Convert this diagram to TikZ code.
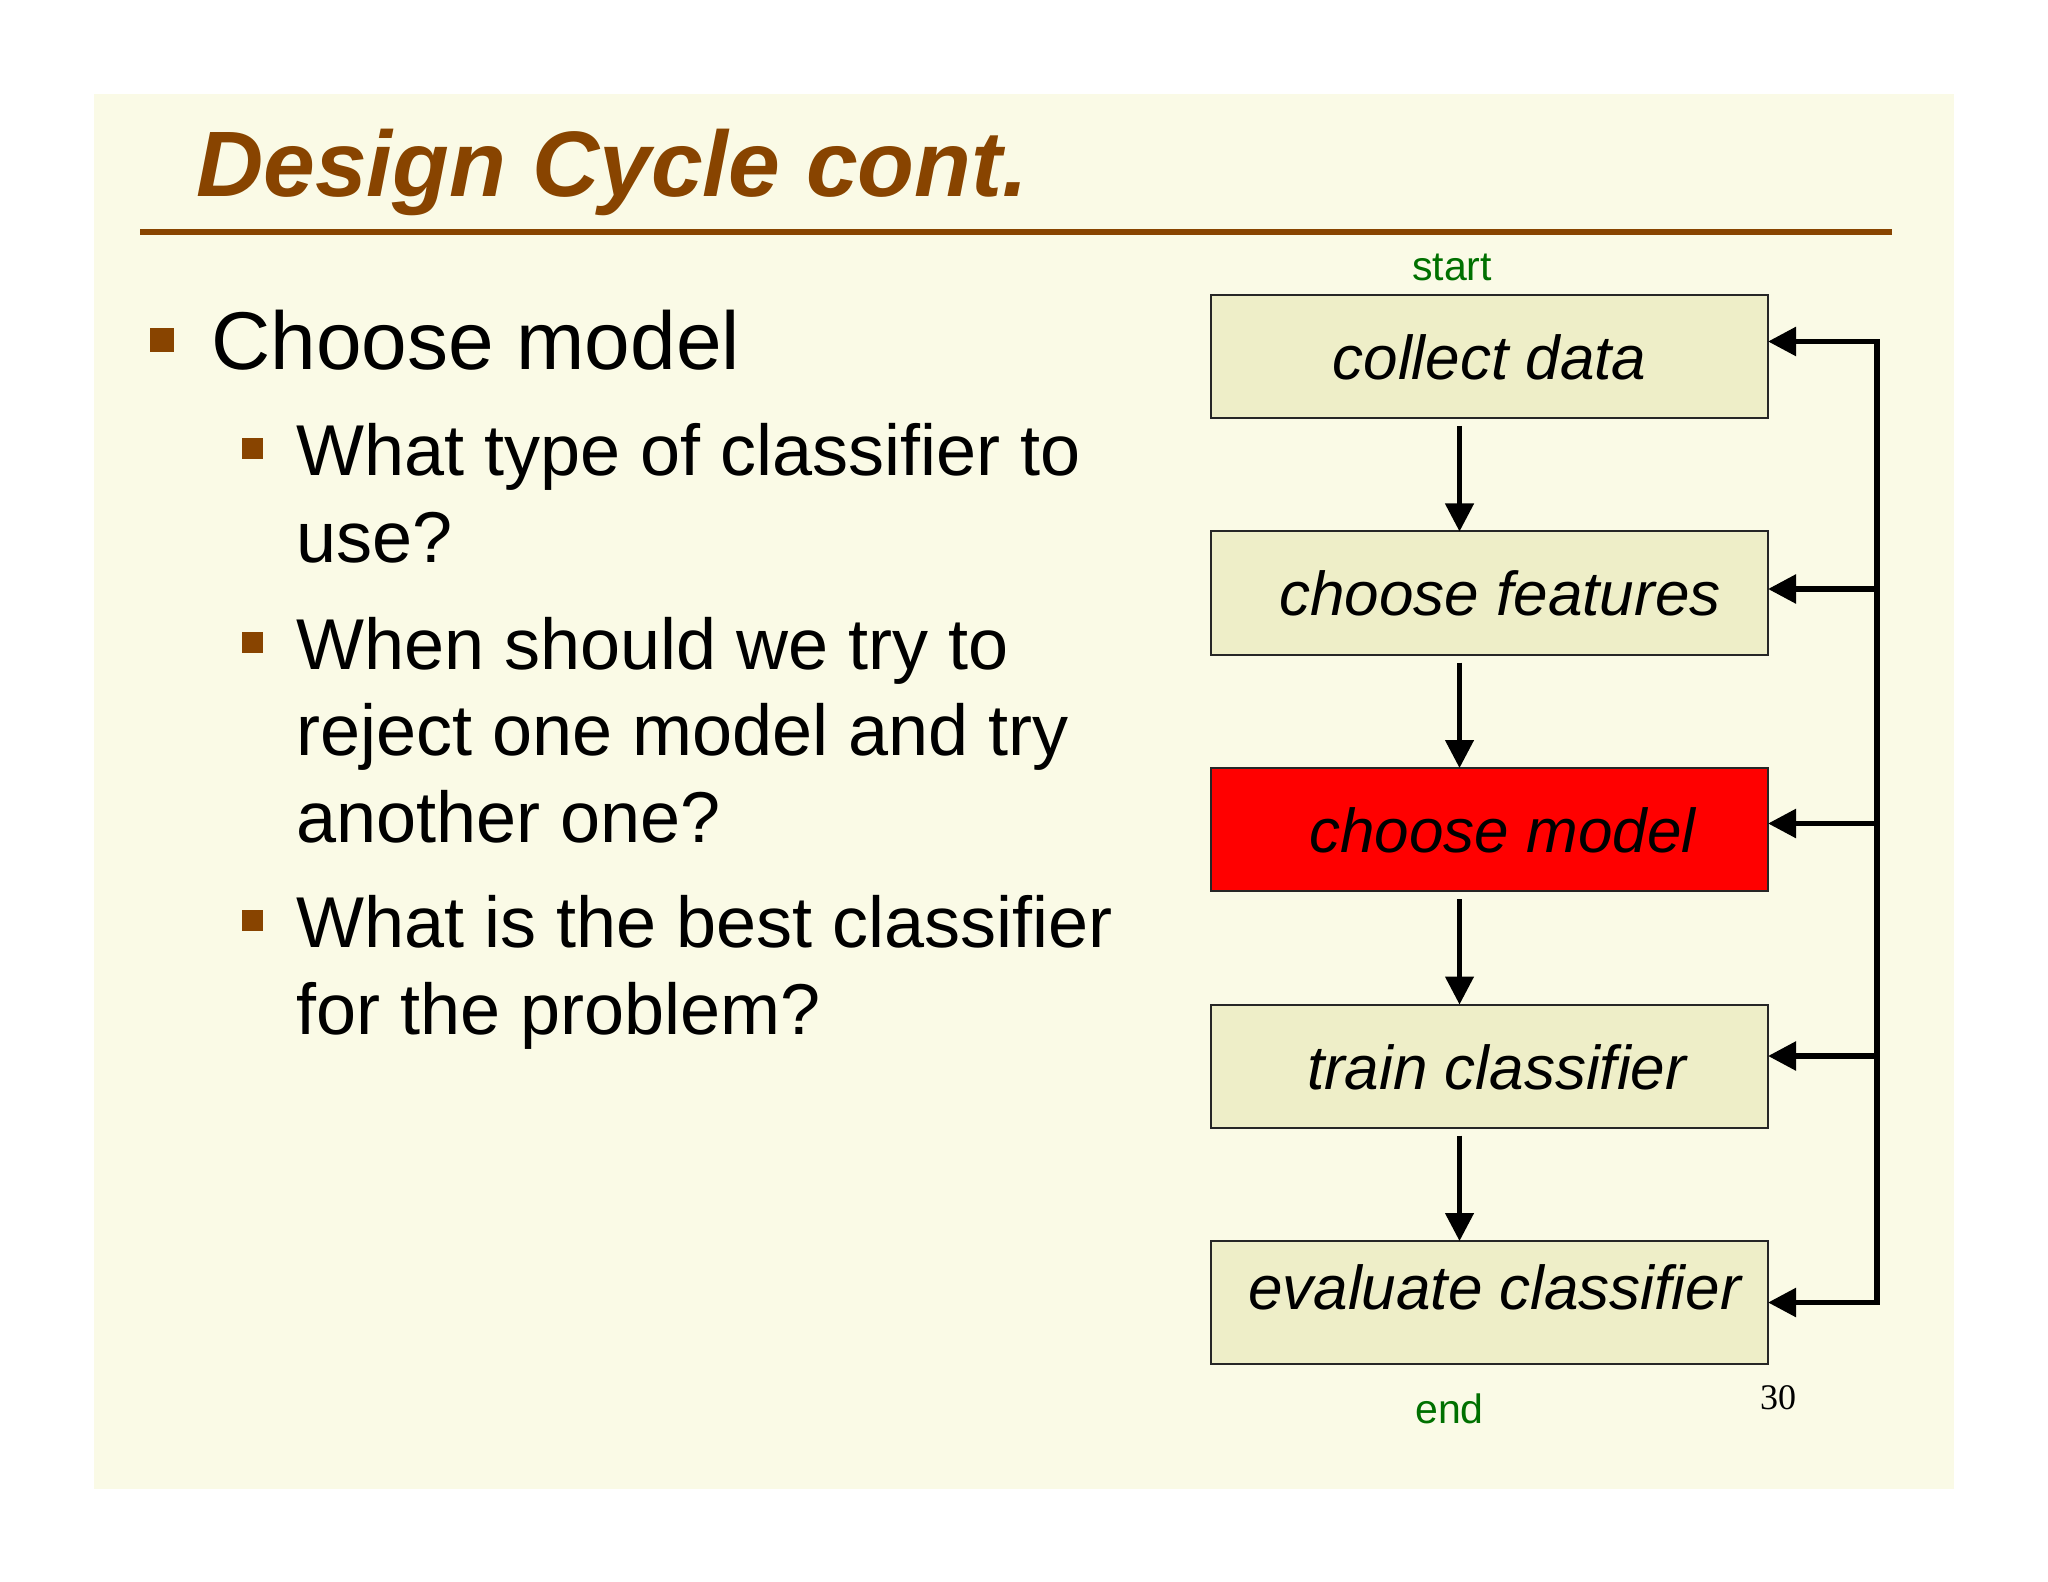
\documentclass[tikz,border=0pt]{standalone}
\usepackage{fontspec}
\setmainfont{Liberation Sans}
\newfontfamily\pagenumfont{Liberation Serif}
\usetikzlibrary{positioning,arrows.meta}
\definecolor{slidebg}{RGB}{250,250,230}
\definecolor{boxfill}{RGB}{238,238,200}
\definecolor{titlebrown}{RGB}{136,68,0}
\definecolor{labelgreen}{RGB}{0,112,0}

\begin{document}
\begin{tikzpicture}[x=0.5pt,y=-0.5pt,
    stage/.style={draw=black!85,line width=1pt,fill=boxfill,minimum width=278.5pt,
      minimum height=61.5pt,inner sep=0pt,outer sep=0pt,text height=23pt,text depth=0pt,
      font=\fontsize{31}{36}\selectfont\itshape},
    nudge/.style={execute at begin node=\hspace*{#1}},
    down/.style={line width=2.3pt,-{Triangle[length=14pt,width=14pt]}},
    back/.style={line width=2.8pt,-{Triangle[length=14pt,width=14pt]}},
    bullet/.style={fill=titlebrown,inner sep=0pt,outer sep=0pt},
    item/.style={anchor=base west,inner sep=0pt,font=\fontsize{36}{43}\selectfont}]

  \fill[white] (0,0) rectangle (2048,1582);
  \useasboundingbox (0,0) rectangle (2048,1582);
  \fill[slidebg] (94,94) rectangle (1954,1489);

  % title and rule
  \node[anchor=base west,inner sep=0pt,text=titlebrown,
    font=\fontsize{46.5}{50}\selectfont\bfseries\itshape] (title) at (196,197) {Design Cycle cont.};
  \draw[titlebrown,line width=3pt] (140,232) -- (1892,232);

  % bullets
  \node[bullet,minimum size=12pt] (sq0) at (162,340) {};
  \node[item,font=\fontsize{41}{49}\selectfont] (choose) at (211,370) {Choose model};
  \foreach \y [count=\i] in {449,642,920}
    \node[bullet,minimum size=10.5pt] (sq\i) at (252.5,\y) {};
  \foreach \y/\t [count=\i] in {476/What type of classifier to, 563/use?,
      669/When should we try to, 755/reject one model and try, 842/another one?,
      947/What is the best classifier, 1034/for the problem?}
    \node[item] (line\i) at (296,\y) {\t};

  % design cycle
  \node[stage] (collect) at (1489.5,356.5) {collect data};
  \node[stage,nudge=10.5pt,below=56.75pt of collect] (features) {choose features};
  \node[stage,nudge=13pt,fill=red,below=56.75pt of features] (model) {choose model};
  \node[stage,nudge=7pt,below=56.75pt of model] (train) {train classifier};
  \node[stage,nudge=5pt,text depth=16pt,below=56.75pt of train] (evaluate) {evaluate classifier};

  \node[text=labelgreen,inner sep=0pt,font=\fontsize{20.5}{24}\selectfont,
    above=7pt of collect,xshift=-18.75pt] (start) {start};
  \node[text=labelgreen,inner sep=0pt,font=\fontsize{20.5}{24}\selectfont,
    below=14.5pt of evaluate,xshift=-20pt] (end) {end};
  \node[inner sep=0pt,font=\pagenumfont\fontsize{18}{22}\selectfont] (page) at (1778,1398) {30};

  \foreach \a/\b in {collect/features,features/model,model/train,train/evaluate}
    \draw[down,shorten <=4pt] ([xshift=-15pt]\a.south) -- ([xshift=-15pt]\b.north);

  % feedback loop
  \coordinate (fb) at (1877,0);
  \foreach \n/\s in {collect/7.5,features/2,model/3,train/5,evaluate/0} {
    \coordinate (fb-\n) at ([yshift=\s pt]\n.east);
    \draw[back] (fb-\n -| fb) -- (fb-\n);
  }
  \draw[line width=2.8pt,line cap=rect] (fb-collect -| fb) -- (fb-evaluate -| fb);
\end{tikzpicture}
\end{document}
